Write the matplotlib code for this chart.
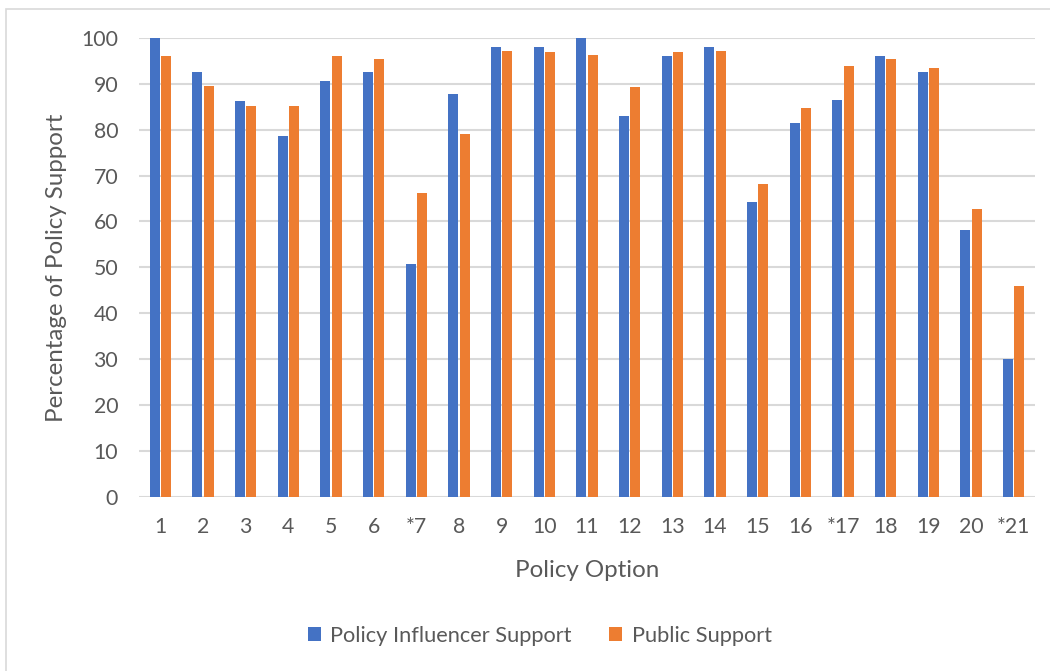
import matplotlib.pyplot as plt
import numpy as np
from matplotlib.patches import Rectangle

plt.rcParams['font.family'] = ['Lato', 'DejaVu Sans']

options = ["1", "2", "3", "4", "5", "6", "*7", "8", "9", "10", "11", "12", "13", "14",
           "15", "16", "*17", "18", "19", "20", "*21"]
influencer = [100, 92.5, 86.2, 78.7, 90.6, 92.5, 50.8, 87.7, 98.0, 98.0, 100,
              83.0, 96.1, 98.0, 64.2, 81.4, 86.4, 96.1, 92.5, 58.2, 30.0]
public = [96.1, 89.4, 85.2, 85.2, 96.0, 95.3, 66.1, 79.0, 97.0, 96.9, 96.2,
          89.3, 96.9, 97.2, 68.1, 84.6, 93.8, 95.4, 93.4, 62.7, 46.0]

blue = '#4472C4'
orange = '#ED7D31'
grey_text = '#595959'

fig = plt.figure(figsize=(10.5, 6.71), dpi=100)
ax = fig.add_axes([0.1324, 0.2589, 0.8533, 0.6850])

x = np.arange(len(options))
w = 0.235
ax.bar(x - 0.13, influencer, w, color=blue, label='Policy Influencer Support', zorder=3)
ax.bar(x + 0.13, public, w, color=orange, label='Public Support', zorder=3)

ax.set_xlim(-0.5, len(options) - 0.5)
ax.set_ylim(0, 100)
ax.set_yticks(range(0, 101, 10))
ax.set_xticks(x, options)
ax.grid(axis='y', color='#D9D9D9', linewidth=1.5, zorder=0)
for s in ax.spines.values():
    s.set_visible(False)
ax.tick_params(length=0, labelsize=15.3, colors=grey_text, pad=14)
ax.tick_params(axis='y', pad=15)

ax.set_xlabel('Policy Option', fontsize=17.4, color=grey_text, labelpad=17)
ax.set_ylabel('Percentage of Policy Support', fontsize=17.4, color=grey_text, labelpad=10)

fig.legend(loc='center', bbox_to_anchor=(0.514, 0.052), ncol=2, frameon=False,
           fontsize=15.7, labelcolor=grey_text, handlelength=0.6, handleheight=0.6,
           handletextpad=0.45, columnspacing=1.7)

# chart border (right and bottom edges fall outside the canvas)
fig.patches.append(Rectangle((6 / 1050, -0.01), 1.0, 1 - 9 / 671 + 0.01,
                             transform=fig.transFigure, fill=False,
                             edgecolor='#D9D9D9', linewidth=1.2))

fig.savefig('out.png', dpi=100)
